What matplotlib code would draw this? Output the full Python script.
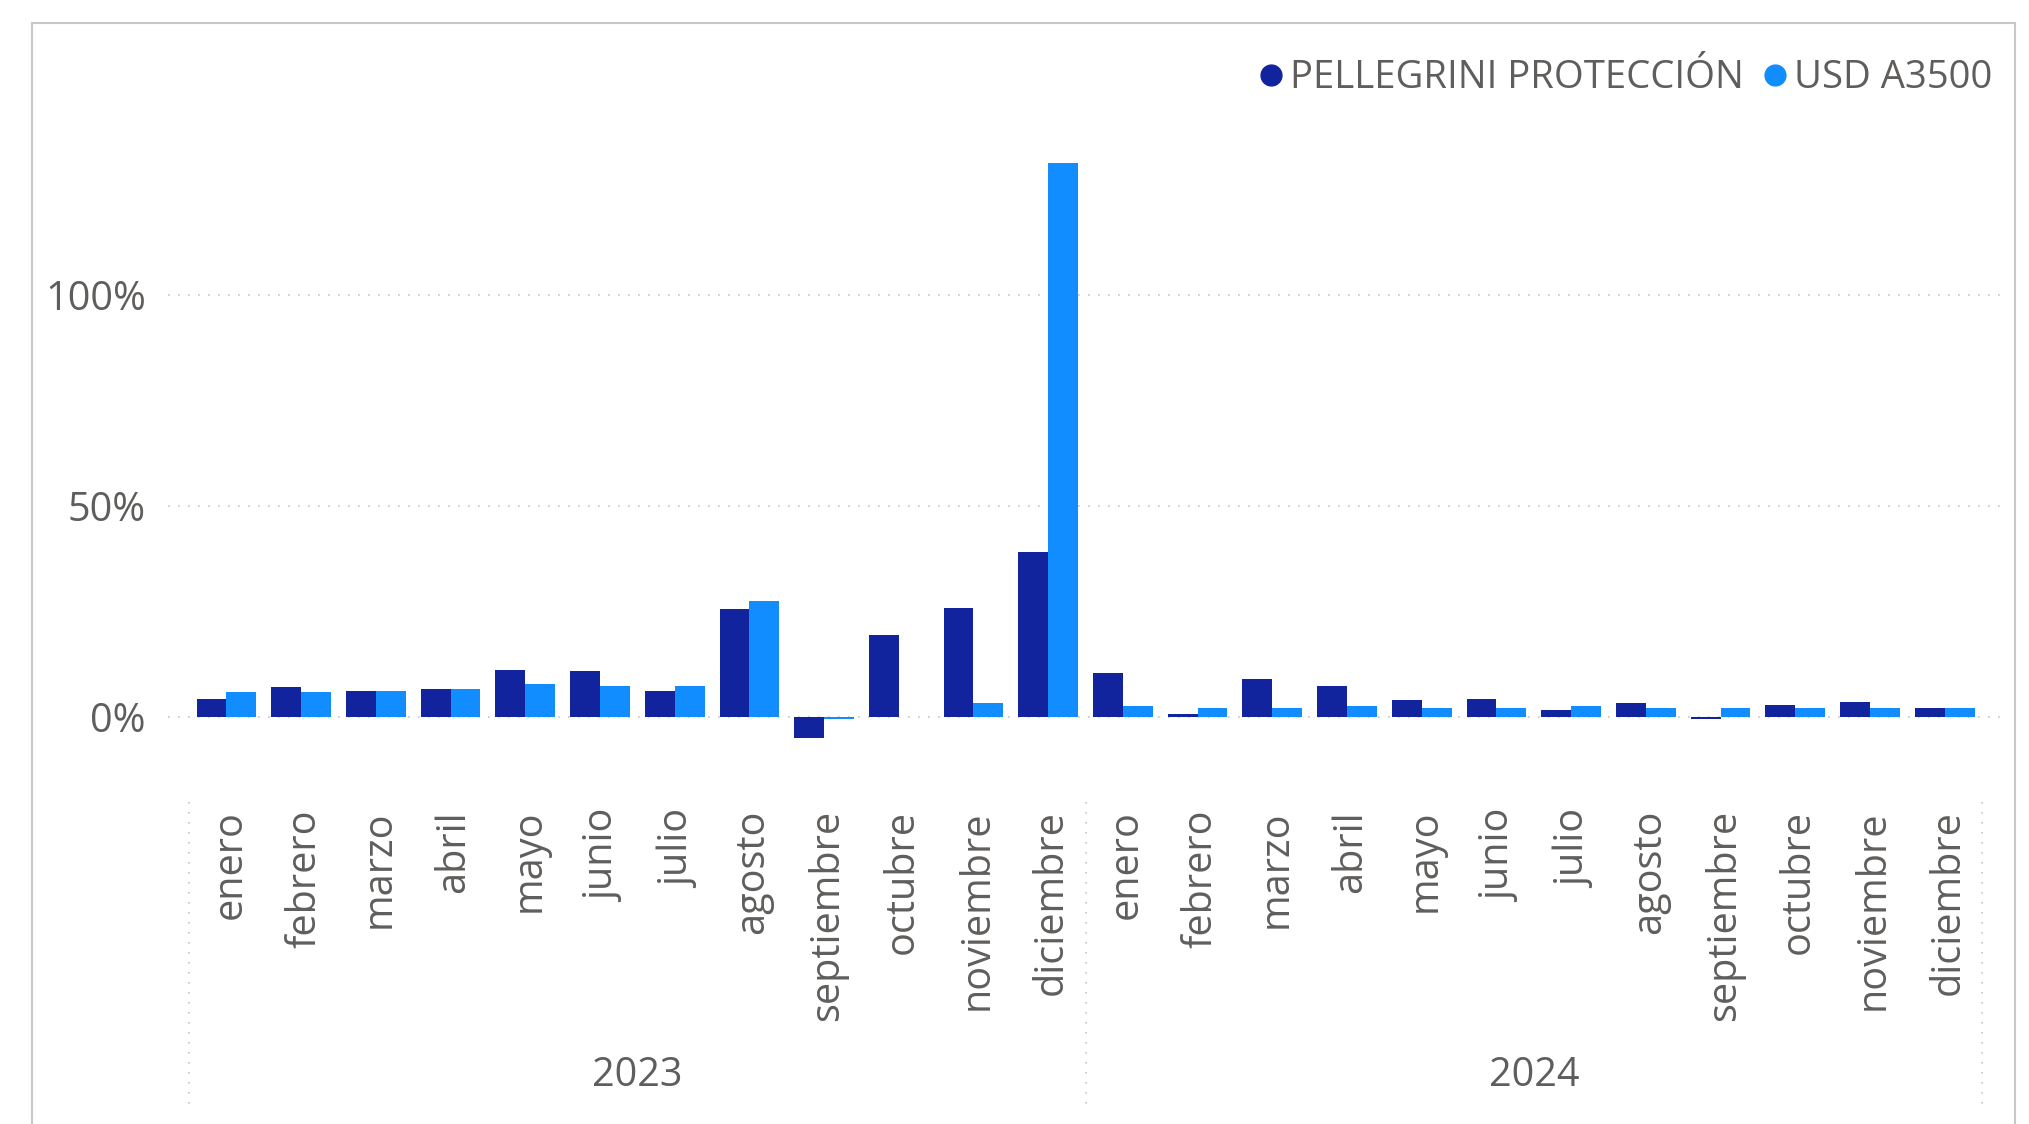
import matplotlib
matplotlib.use("Agg")
import matplotlib.pyplot as plt
import matplotlib.transforms as mtransforms
from matplotlib.lines import Line2D
import numpy as np

months = ["enero", "febrero", "marzo", "abril", "mayo", "junio", "julio",
          "agosto", "septiembre", "octubre", "noviembre", "diciembre"]
years = ["2023", "2024"]
categories = months * 2

pellegrini = [4.3, 7.0, 6.2, 6.7, 11.0, 10.8, 6.2, 25.5, -5.0, 19.5, 25.9, 39.0,
              10.5, 0.8, 8.9, 7.2, 3.9, 4.3, 1.6, 3.4, -0.5, 2.7, 3.6, 2.0]
usd_a3500 = [5.8, 5.8, 6.2, 6.7, 7.7, 7.4, 7.4, 27.4, -0.5, 0.0, 3.2, 131.3,
             2.5, 2.0, 2.0, 2.5, 2.2, 2.0, 2.5, 2.2, 2.0, 2.2, 2.2, 2.2]
yticks = [0, 50, 100]
ytick_labels = ["0%", "50%", "100%"]
series_names = ["PELLEGRINI PROTECCIÓN", "USD A3500"]

DARK = "#12239E"
LIGHT = "#118DFF"
TXT = "#605E5C"
GRID = "#C8C6C4"

plt.rcParams["font.family"] = ["Open Sans", "DejaVu Sans"]

W, H = 2029, 1124
fig = plt.figure(figsize=(W / 100, H / 100), dpi=100)

# frame
fig.add_artist(Line2D([32 / W, 2015 / W], [1 - 23 / H, 1 - 23 / H], color="#C8C8C8", lw=1.5,
                      transform=fig.transFigure))
fig.add_artist(Line2D([32 / W, 32 / W], [0, 1 - 23 / H], color="#C8C8C8", lw=1.5,
                      transform=fig.transFigure))
fig.add_artist(Line2D([2015 / W, 2015 / W], [0, 1 - 23 / H], color="#C8C8C8", lw=1.5,
                      transform=fig.transFigure))

ax = fig.add_axes([168.2 / W, 1 - 776 / H, (1999.9 - 168.2) / W, (776 - 130) / H])
x = np.arange(len(categories))
bw = 0.4
ax.bar(x - bw / 2, pellegrini, width=bw, color=DARK, zorder=3)
ax.bar(x + bw / 2, usd_a3500, width=bw, color=LIGHT, zorder=3)

ax.set_xlim(-0.78, 23.74)
ax.set_ylim(-14, 139)
ax.set_yticks(yticks)
ax.set_yticklabels(ytick_labels)
ax.tick_params(axis="y", length=0, pad=16, labelsize=28.5, labelcolor=TXT)
ax.set_xticks([])
for s in ax.spines.values():
    s.set_visible(False)
ax.yaxis.grid(True, linestyle=(0, (1, 5)), color=GRID, lw=1.2, zorder=0)

trans = mtransforms.blended_transform_factory(ax.transData, fig.transFigure)
for i, lab in enumerate(categories):
    ax.text(i + 0.05, 1 - 810 / H, lab, rotation=90, ha="center", va="top",
            fontsize=28.5, color=TXT, transform=trans, clip_on=False)

for j, yr in enumerate(years):
    ax.text(5.5 + 12 * j, 1 - 1076 / H, yr, ha="center", va="center",
            fontsize=28.5, color=TXT, transform=trans, clip_on=False)

for sx in [-0.5, 11.5, 23.5]:
    ax.add_line(Line2D([sx, sx], [1 - 802 / H, 1 - 1110 / H], transform=trans,
                       color=GRID, lw=1.2, linestyle=(0, (1, 5)), clip_on=False))

handles = [Line2D([], [], marker="o", linestyle="none", markersize=15, color=DARK),
           Line2D([], [], marker="o", linestyle="none", markersize=15, color=LIGHT)]
fig.legend(handles, series_names, loc="center right",
           bbox_to_anchor=(1992 / W, 1 - 78 / H), ncol=2, frameon=False,
           handletextpad=0.0, columnspacing=0.3, handlelength=1.0,
           fontsize=27.5, labelcolor=TXT, borderaxespad=0, borderpad=0)

fig.savefig("out.png", dpi=100, facecolor="white")
